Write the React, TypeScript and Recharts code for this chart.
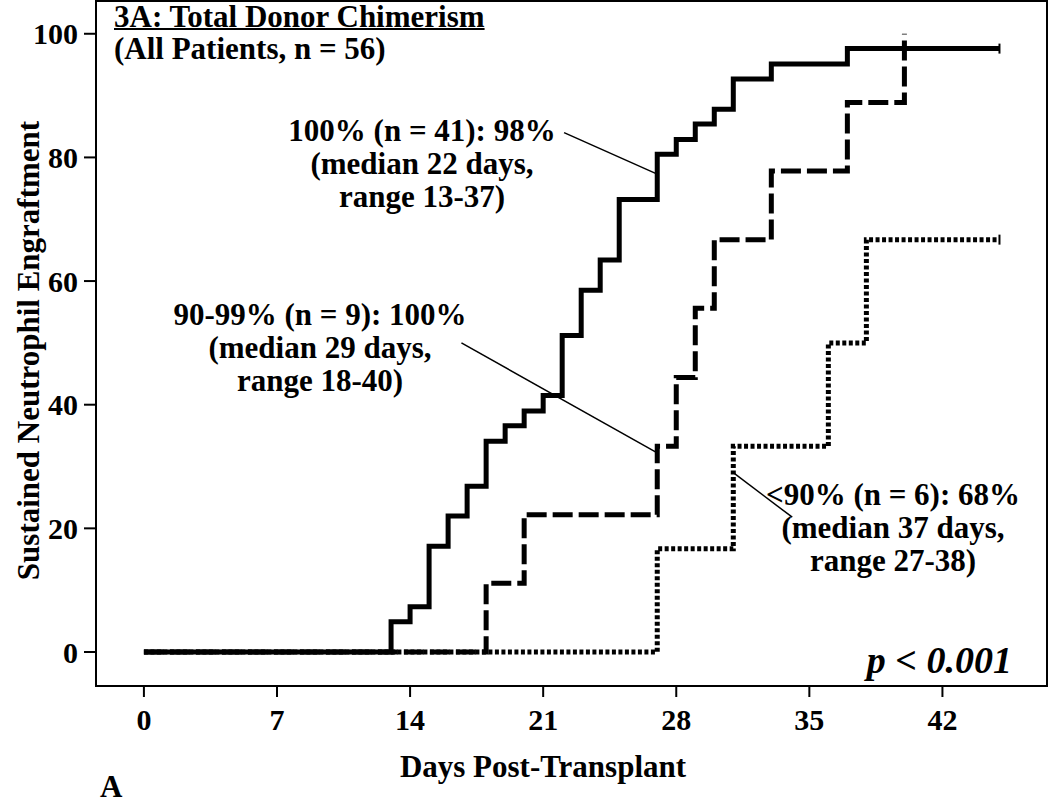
import { LineChart, Line, XAxis, YAxis, ReferenceArea, ReferenceLine } from 'recharts'

// 100% donor chimerism (n = 41)
const fullDays = [0, 13, 14, 15, 16, 17, 18, 19, 20, 21, 22, 23, 24, 25, 27, 28, 29, 30, 31, 33, 37, 45]
const fullPct = [0, 4.9, 7.3, 17.1, 22.0, 26.8, 34.1, 36.6, 39.0, 41.5, 51.2, 58.5, 63.4, 73.2, 80.5, 82.9, 85.4, 87.8, 92.7, 95.1, 97.6, 97.6]

// 90-99% (n = 9)
const midDays = [0, 18, 20, 27, 28, 29, 30, 33, 37, 40]
const midPct = [0, 11.1, 22.2, 33.3, 44.4, 55.6, 66.7, 77.8, 88.9, 100]

// <90% (n = 6)
const lowDays = [0, 27, 31, 36, 38, 45]
const lowPct = [0, 16.7, 33.3, 50, 66.7, 66.7]

const xTicks = [0, 7, 14, 21, 28, 35, 42]
const yTicks = [0, 20, 40, 60, 80, 100]

const X_DOMAIN: [number, number] = [-2.52, 47.5]
const Y_DOMAIN: [number, number] = [-5.5, 105.3]

const font = "'Liberation Serif', 'Times New Roman', serif"

const toRows = (days: number[], pct: number[]) => days.map((d, i) => ({ day: d, pct: pct[i] }))

const fullData = toRows(fullDays, fullPct)
const midData = toRows(midDays, midPct)
const lowData = toRows(lowDays, lowPct)

// small tick at the end of a curve = censored
function censorDot(lastIndex: number) {
  return (props: any) => {
    const { cx, cy, index } = props
    if (index !== lastIndex) return <g key={'d' + index} />
    return (
      <path
        key={'d' + index}
        d={`M${cx},${cy - 5}L${cx},${cy + 5}`}
        stroke="#000"
        strokeWidth={2}
      />
    )
  }
}

const tickStyle = { fill: '#000', fontSize: 30, fontWeight: 'bold', fontFamily: font }

const textBase: any = {
  position: 'absolute',
  fontFamily: font,
  fontWeight: 'bold',
  fontSize: 31,
  color: '#000',
  whiteSpace: 'nowrap',
  lineHeight: '33px',
}

function Note({ cx, top, lines }: { cx: number; top: number; lines: string[] }) {
  return (
    <div style={{ ...textBase, left: cx - 200, width: 400, top, textAlign: 'center' }}>
      {lines.map((l) => (
        <div key={l}>{l}</div>
      ))}
    </div>
  )
}

export default function App() {
  return (
    <div style={{ position: 'absolute', left: 0, top: 0, width: 1050, height: 804, background: '#fff', overflow: 'hidden' }}>
      <LineChart width={1050} height={804} margin={{ top: 1, right: 3, left: 0, bottom: 0 }}>
        <XAxis
          type="number"
          dataKey="day"
          domain={X_DOMAIN}
          allowDataOverflow
          ticks={xTicks}
          tickSize={11}
          tickMargin={12}
          height={118}
          tick={tickStyle}
          axisLine={{ stroke: '#000', strokeWidth: 2 }}
          tickLine={{ stroke: '#000', strokeWidth: 2 }}
        />
        <YAxis
          type="number"
          dataKey="pct"
          domain={Y_DOMAIN}
          allowDataOverflow
          ticks={yTicks}
          width={96}
          tickSize={12}
          tickMargin={6}
          tick={tickStyle}
          axisLine={{ stroke: '#000', strokeWidth: 2 }}
          tickLine={{ stroke: '#000', strokeWidth: 2 }}
        />
        <ReferenceArea
          x1={X_DOMAIN[0]}
          x2={X_DOMAIN[1]}
          y1={Y_DOMAIN[0]}
          y2={Y_DOMAIN[1]}
          fill="none"
          fillOpacity={0}
          stroke="#000"
          strokeWidth={2}
        />
        <Line
          data={lowData}
          dataKey="pct"
          type="stepAfter"
          stroke="#000"
          strokeWidth={5}
          strokeDasharray="4 2.5"
          dot={censorDot(lowData.length - 1)}
          activeDot={false}
          isAnimationActive={false}
        />
        <Line
          data={midData}
          dataKey="pct"
          type="stepAfter"
          stroke="#000"
          strokeWidth={5}
          strokeDasharray="20 6"
          dot={false}
          activeDot={false}
          isAnimationActive={false}
        />
        <Line
          data={fullData}
          dataKey="pct"
          type="stepAfter"
          stroke="#000"
          strokeWidth={5}
          dot={censorDot(fullData.length - 1)}
          activeDot={false}
          isAnimationActive={false}
        />
        <ReferenceLine segment={[{ x: 22.1, y: 84 }, { x: 27, y: 77.3 }]} stroke="#000" strokeWidth={1.5} />
        <ReferenceLine segment={[{ x: 16.7, y: 50 }, { x: 27, y: 32.2 }]} stroke="#000" strokeWidth={1.5} />
        <ReferenceLine segment={[{ x: 31, y: 29 }, { x: 34.1, y: 21.8 }]} stroke="#000" strokeWidth={1.5} />
      </LineChart>

      <div style={{ ...textBase, left: 114, top: 1, lineHeight: '32px' }}>
        <div style={{ textDecoration: 'underline', textDecorationThickness: 2 }}>3A: Total Donor Chimerism</div>
        <div>(All Patients, n = 56)</div>
      </div>

      <Note cx={422} top={114} lines={['100% (n = 41): 98%', '(median 22 days,', 'range 13-37)']} />
      <Note cx={320} top={298} lines={['90-99% (n = 9): 100%', '(median 29 days,', 'range 18-40)']} />
      <Note cx={893} top={478} lines={['<90% (n = 6): 68%', '(median 37 days,', 'range 27-38)']} />

      <div style={{ ...textBase, right: 38, top: 640, fontSize: 38, lineHeight: '40px', fontStyle: 'italic' }}>p &lt; 0.001</div>

      <div style={{ ...textBase, left: 0, width: 1086, top: 750, textAlign: 'center' }}>Days Post-Transplant</div>

      <div
        style={{
          ...textBase,
          left: 28 - 300,
          width: 600,
          top: 350 - 16,
          textAlign: 'center',
          transform: 'rotate(-90deg)',
        }}
      >
        Sustained Neutrophil Engraftment
      </div>

      <div style={{ ...textBase, left: 100, top: 770 }}>A</div>
    </div>
  )
}
